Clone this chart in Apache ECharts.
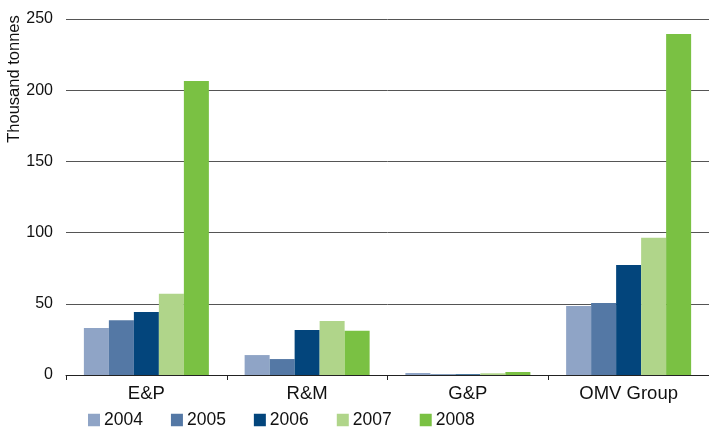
<!DOCTYPE html>
<html>
<head>
<meta charset="utf-8">
<script src="https://cdn.jsdelivr.net/npm/echarts@6/dist/echarts.min.js"></script>
<style>
  html, body { margin: 0; padding: 0; background: #ffffff; }
  #chart { width: 709px; height: 428px; }
</style>
</head>
<body>
<div id="chart"></div>
<script>
// Emissions by business segment, thousand tonnes
const categories = ['E&P', 'R&M', 'G&P', 'OMV Group'];
const years = ['2004', '2005', '2006', '2007', '2008'];
const values2004 = [33, 14, 1.4, 48.5];
const values2005 = [38.5, 11.2, 0.5, 50.5];
const values2006 = [44.2, 31.6, 0.5, 77.3];
const values2007 = [57, 38, 1.2, 96.3];
const values2008 = [206.5, 31, 2.1, 239.5];
const yTicks = { min: 0, max: 250, interval: 50 };

const seriesValues = [values2004, values2005, values2006, values2007, values2008];
const colors = ['#8fa4c6', '#5478a5', '#03457c', '#b0d58a', '#7ac143'];
const fontFamily = '"Liberation Sans", Arial, Helvetica, sans-serif';
const textColor = '#111111';

const chart = echarts.init(document.getElementById('chart'), null, { renderer: 'canvas' });

chart.setOption({
  animation: false,
  color: colors,
  grid: { left: 66, right: -4, top: 19, bottom: 53, containLabel: false },
  legend: {
    data: years,
    left: 88,
    top: 411,
    padding: 0,
    itemWidth: 12,
    itemHeight: 12.5,
    itemGap: 28,
    icon: 'rect',
    textStyle: { fontFamily: fontFamily, fontSize: 17.5, color: textColor, padding: [0, 0, 0, -1] }
  },
  xAxis: {
    type: 'category',
    data: categories,
    axisLine: { lineStyle: { color: '#222222', width: 1 } },
    axisTick: { show: true, length: 5, lineStyle: { color: '#222222' } },
    axisLabel: { fontFamily: fontFamily, fontSize: 18.5, color: textColor, margin: 9 }
  },
  yAxis: {
    type: 'value',
    min: yTicks.min,
    max: yTicks.max,
    interval: yTicks.interval,
    axisLine: { show: false },
    axisTick: { show: false },
    axisLabel: { fontFamily: fontFamily, fontSize: 16, color: textColor, margin: 13 },
    splitLine: { lineStyle: { color: '#555555', width: 1 } }
  },
  graphic: [{
    type: 'text',
    x: 14,
    y: 79,
    rotation: Math.PI / 2,
    style: {
      text: 'Thousand tonnes',
      font: '16.5px ' + fontFamily,
      fill: textColor,
      align: 'center',
      verticalAlign: 'middle'
    }
  }],
  series: years.map((y, i) => ({
    name: y,
    type: 'bar',
    data: seriesValues[i],
    barWidth: 25,
    barGap: '0%',
    itemStyle: { color: colors[i] }
  }))
});
</script>
</body>
</html>
